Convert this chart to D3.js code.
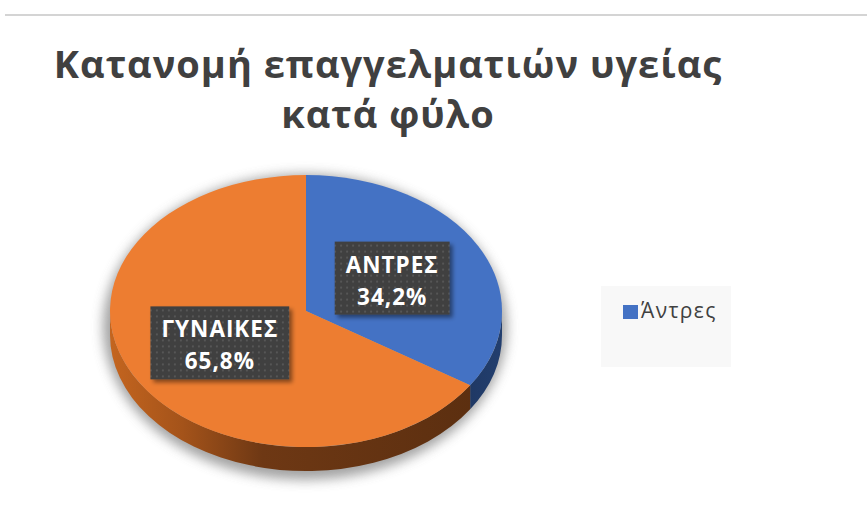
<!DOCTYPE html>
<html>
<head>
<meta charset="utf-8">
<script src="https://cdn.jsdelivr.net/npm/d3@7/dist/d3.min.js"></script>
<style>
  html, body { margin: 0; padding: 0; background: #ffffff; }
  svg { display: block; }
</style>
</head>
<body>
<svg id="chart" width="867" height="505"></svg>
<script>
// Health professionals by sex (percent)
const categories = ["Άντρες", "Γυναίκες"];
const sliceLabels = ["ΑΝΤΡΕΣ", "ΓΥΝΑΙΚΕΣ"];
const values = [34.2, 65.8];
const legendItems = ["Άντρες"];
const titleLines = ["Κατανομή επαγγελματιών υγείας", "κατά φύλο"];

const W = 867, H = 505;
const svg = d3.select("#chart");
const defs = svg.append("defs");

// top separator rule
svg.append("rect").attr("x", 5).attr("y", 14).attr("width", W - 5).attr("height", 2).attr("fill", "#d4d4d4");

// title
const title = svg.append("text")
  .attr("text-anchor", "middle")
  .attr("font-family", "'Open Sans', sans-serif")
  .attr("font-weight", 700)
  .attr("font-size", 38)
  .attr("letter-spacing", 1)
  .attr("fill", "#404040");
titleLines.forEach((t, i) => {
  title.append("tspan").attr("x", 388).attr("y", 78 + i * 50).text(t);
});

// 3D pie geometry
const cx = 306, cy = 311, rx = 196, ry = 136, depth = 24;
const colors = d3.scaleOrdinal().domain(categories).range(["#4472c4", "#ed7d31"]);
const sideColors = { "Άντρες": "url(#sideBlue)", "Γυναίκες": "url(#sideOrange)" };

const pie = d3.pie().sort(null).value(d => d.value).startAngle(0).endAngle(2 * Math.PI);
const data = categories.map((c, i) => ({ cat: c, label: sliceLabels[i], value: values[i] }));
const arcs = pie(data);

// project an angle (0 = 12 o'clock, clockwise) onto the tilted ellipse
const px = (a, f = 1) => cx + rx * f * Math.sin(a);
const py = (a, f = 1, dy = 0) => cy - ry * f * Math.cos(a) + dy;

// gradients for the extruded rim
const gO = defs.append("linearGradient").attr("id", "sideOrange")
  .attr("gradientUnits", "userSpaceOnUse").attr("x1", cx - rx).attr("x2", cx + rx * 0.85).attr("y1", 0).attr("y2", 0);
[[0, "#c4651f"], [0.2, "#a4531a"], [0.42, "#6e3814"], [1, "#5c2f10"]].forEach(([o, c]) =>
  gO.append("stop").attr("offset", o).attr("stop-color", c));
const gB = defs.append("linearGradient").attr("id", "sideBlue")
  .attr("gradientUnits", "userSpaceOnUse").attr("x1", cx + rx * 0.8).attr("x2", cx + rx).attr("y1", 0).attr("y2", 0);
[[0, "#1f3863"], [1, "#223e6e"]].forEach(([o, c]) =>
  gB.append("stop").attr("offset", o).attr("stop-color", c));

// soft shadow under the pie
const blur = defs.append("filter").attr("id", "pieShadow")
  .attr("x", "-20%").attr("y", "-20%").attr("width", "140%").attr("height", "140%");
blur.append("feGaussianBlur").attr("stdDeviation", 6);
svg.append("ellipse")
  .attr("cx", cx - 1).attr("cy", cy + depth / 2 + 4)
  .attr("rx", rx + 6).attr("ry", ry + depth / 2 + 5)
  .attr("fill", "#8c8c8c").attr("opacity", 0.8)
  .attr("filter", "url(#pieShadow)");

const pieG = svg.append("g");

// rim (only the front half is visible)
arcs.forEach(d => {
  const s0 = Math.max(d.startAngle, Math.PI / 2);
  const s1 = Math.min(d.endAngle, 3 * Math.PI / 2);
  if (s0 >= s1) return;
  const dpath = `M${px(s0)},${py(s0)} A${rx},${ry} 0 0 1 ${px(s1)},${py(s1)} ` +
    `L${px(s1)},${py(s1, 1, depth)} A${rx},${ry} 0 0 0 ${px(s0)},${py(s0, 1, depth)} Z`;
  pieG.append("path").attr("d", dpath).attr("fill", sideColors[d.data.cat]);
});

// top faces
arcs.forEach(d => {
  const large = d.endAngle - d.startAngle > Math.PI ? 1 : 0;
  const dpath = `M${cx},${cy} L${px(d.startAngle)},${py(d.startAngle)} ` +
    `A${rx},${ry} 0 ${large} 1 ${px(d.endAngle)},${py(d.endAngle)} Z`;
  pieG.append("path").attr("d", dpath).attr("fill", colors(d.data.cat));
});

// data label callouts
const pat = defs.append("pattern").attr("id", "dots")
  .attr("patternUnits", "userSpaceOnUse").attr("width", 6).attr("height", 6);
pat.append("rect").attr("width", 6).attr("height", 6).attr("fill", "#3f3f3f");
pat.append("rect").attr("x", 2).attr("y", 2).attr("width", 2).attr("height", 2).attr("fill", "#565656");

const ds = defs.append("filter").attr("id", "boxShadow")
  .attr("x", "-20%").attr("y", "-20%").attr("width", "150%").attr("height", "150%");
ds.append("feDropShadow").attr("dx", 3).attr("dy", 3).attr("stdDeviation", 2)
  .attr("flood-color", "#000").attr("flood-opacity", 0.45);

const fmt = v => v.toFixed(1).replace(".", ",") + "%";

arcs.forEach(d => {
  const mid = (d.startAngle + d.endAngle) / 2;
  const lx = px(mid, 0.5), ly = py(mid, 0.5);
  const g = svg.append("g").attr("transform", `translate(${lx},${ly})`);
  const box = g.append("rect").attr("fill", "url(#dots)").attr("filter", "url(#boxShadow)");
  const t = g.append("text")
    .attr("text-anchor", "middle")
    .attr("font-family", "'Open Sans', sans-serif")
    .attr("font-weight", 700)
    .attr("font-size", 22.5)
    .attr("letter-spacing", 1)
    .attr("fill", "#ffffff");
  const t1 = t.append("tspan").attr("x", 0).attr("y", -6).text(d.data.label);
  const t2 = t.append("tspan").attr("x", 0).attr("y", 26).text(fmt(d.data.value));
  const w = Math.max(t1.node().getComputedTextLength(), t2.node().getComputedTextLength()) + 22;
  box.attr("x", -w / 2).attr("y", -37).attr("width", w).attr("height", 73);
});

// legend
const legend = svg.append("g");
legend.append("rect").attr("x", 601).attr("y", 286).attr("width", 130).attr("height", 81).attr("fill", "#f8f8f8");
legendItems.forEach((name, i) => {
  legend.append("rect").attr("x", 623).attr("y", 305 + i * 24).attr("width", 15).attr("height", 14)
    .attr("fill", colors(name));
  legend.append("text").attr("x", 641).attr("y", 318 + i * 24)
    .attr("font-family", "'Open Sans', sans-serif")
    .attr("font-size", 21)
    .attr("letter-spacing", 1.4)
    .attr("fill", "#404040")
    .text(name);
});
</script>
</body>
</html>
